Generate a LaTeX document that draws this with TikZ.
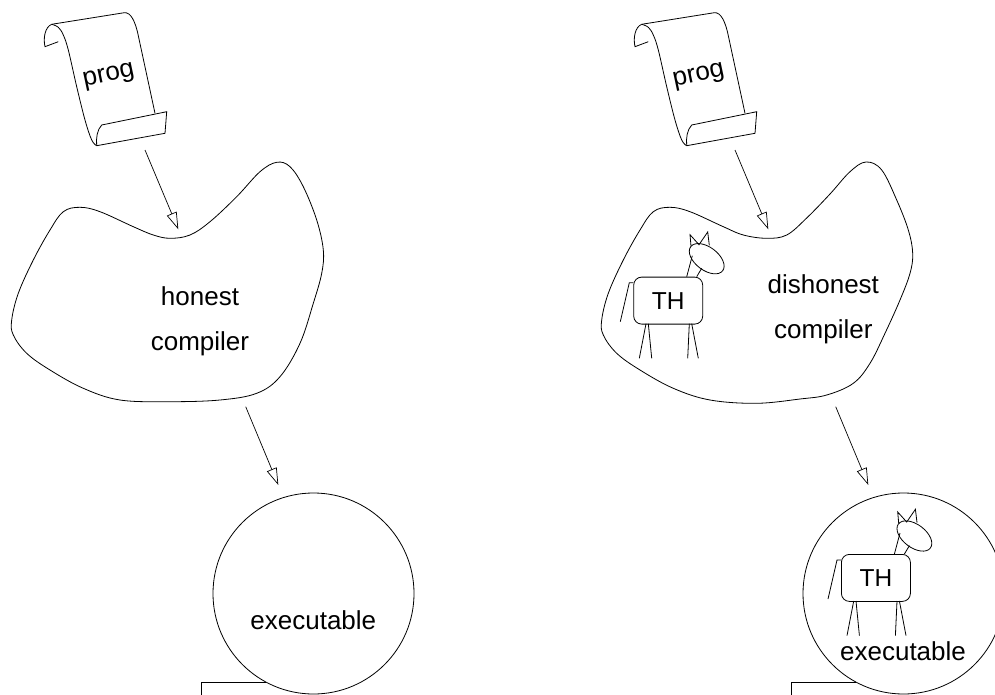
\documentclass[tikz,border=0pt]{standalone}
\usepackage{fontspec}
\setmainfont{Liberation Sans}
\usetikzlibrary{arrows.meta}

\begin{document}
\begin{tikzpicture}[
    x=1pt, y=-1pt,
    line width=0.8pt,
    >={Triangle[open, length=17pt, width=10.5pt]},
    % --- styles ---
    txt/.style   = {font=\fontsize{26}{45}\selectfont, align=center, inner sep=0pt},
    flow/.style  = {->, line width=0.7pt},
    blob/.style  = {line width=0.8pt},
    bubble/.style= {circle, draw, minimum size=201pt, inner sep=0pt},
    % rolled sheet of source text
    scroll/.pic = {
        \draw (51.7,24.3) -- (124.3,12.7) .. controls (131,12) and (135,22) .. (137.5,32) -- (155,113.3);
        \draw (51.7,24.3) .. controls (45,27) and (43,38) .. (45,46.7) -- (58.3,41.7);
        \draw plot[smooth, tension=0.6] coordinates {(51.7,24.3) (58.3,27.3) (63.3,35) (68.3,50) (76.7,86.7) (85,120) (91.7,140) (96.7,145.7)};
        \draw (96.7,145.7) -- (165,133.3) -- (166.7,111.7) -- (101.7,125) .. controls (97,130) and (96,138) .. (96.7,145.7);
        \node[txt, rotate=12] (-text) at (109,77) {prog};
    },
    % the little horse
    horse/.pic = {
        \node[draw, rounded corners=8pt, minimum width=69pt, minimum height=47pt, inner sep=0pt,
              anchor=north west, font=\fontsize{24.5}{28}\selectfont] (-body) at (0,0) {TH};
        \draw (0,6) -- (-4,6) -- (-13,45);                    % tail
        \draw (12.7,47) -- (6,81.6)   (15,47) -- (18.4,81.6)  % legs
              (56,47) -- (54.4,81.6)  (58.4,47) -- (65,81.6);
        \draw (53.4,0) -- (59,-21)  (63.4,0) -- (68.4,-8.4);   % neck
        \draw[shift={(73.4,-18)}, rotate=-37] (0,0) ellipse [x radius=20, y radius=11.5];
        \draw (57.7,-30.7) -- (56.7,-42) -- (65.7,-32) -- (74.4,-44.7) -- (76,-31.4); % ears
    }
]
\useasboundingbox (0,0) rectangle (995,695);

% ===================== LEFT: honest =====================
\pic (progL) at (0,0) {scroll};

\draw[blob] plot[smooth cycle, tension=0.6] coordinates {
    (170,238.3) (190,235) (210,221.7) (236.7,196.7) (260,171.7) (276.7,162.3) (290,166.7)
    (303.3,186.7) (316.7,220) (323.3,250) (321.7,273.3) (313.3,303.3) (300,343.3) (280,376.7)
    (256.7,393.3) (220,400) (170,401.7) (120,400) (83.3,388.3) (50,370) (26.7,353.3)
    (13.3,335) (11.7,320) (18.3,293.3) (33.3,260) (50,230) (63.3,211.7) (80,207.3)
    (100,211.7) (133.3,226.7) (153.3,235)};
\node[txt] (compL) at (200,321.5) {honest\\compiler};

\node[bubble] (exeL) at (313.5,593.5) {};
\draw (exeL.242.5) -- ++(-65,0) -- ++(0,20);
\node[txt, anchor=base] (exeL-text) at (313.3,629.3) {executable};

\coordinate (progL-out) at (145,150);
\coordinate (compL-in)  at (178.3,229.3);
\coordinate (compL-out) at (245.7,406.7);
\coordinate (exeL-in)   at (278.3,485);
\draw[flow] (progL-out) -- (compL-in);
\draw[flow] (compL-out) -- (exeL-in);

% ===================== RIGHT: dishonest =====================
\pic (progR) at (590,0) {scroll};

\draw[blob] plot[smooth cycle, tension=0.6] coordinates {
    (766.7,238.3) (786.7,235) (806.7,218) (830,194) (850,171.7) (866,162) (881.7,170)
    (896.7,200) (908.3,230) (912.7,253.3) (910,273.3) (900,300) (885,333.3) (870,363.3)
    (853.3,383.3) (826.7,395) (800,399) (756.7,403.3) (710,400) (673.3,388.3) (640,370)
    (616.7,353.3) (603.3,335) (601.7,320) (608.3,293.3) (623.3,260) (640,230) (653.3,211.7)
    (670,207.3) (690,211.7) (723.3,226.7) (743.3,235)};
\node[txt] (compR) at (823.3,309.4) {dishonest\\compiler};
\pic (thC) at (633.3,276.7) {horse};

\node[bubble] (exeR) at (903.5,593.5) {};
\draw (exeR.242.5) -- ++(-65,0) -- ++(0,20);
\pic (thE) at (841,554) {horse};
\node[txt, anchor=base] (exeR-text) at (903,660) {executable};

\coordinate (progR-out) at (735,150);
\coordinate (compR-in)  at (768.3,229.3);
\coordinate (compR-out) at (835.7,406.7);
\coordinate (exeR-in)   at (868.3,485);
\draw[flow] (progR-out) -- (compR-in);
\draw[flow] (compR-out) -- (exeR-in);

\end{tikzpicture}
\end{document}
